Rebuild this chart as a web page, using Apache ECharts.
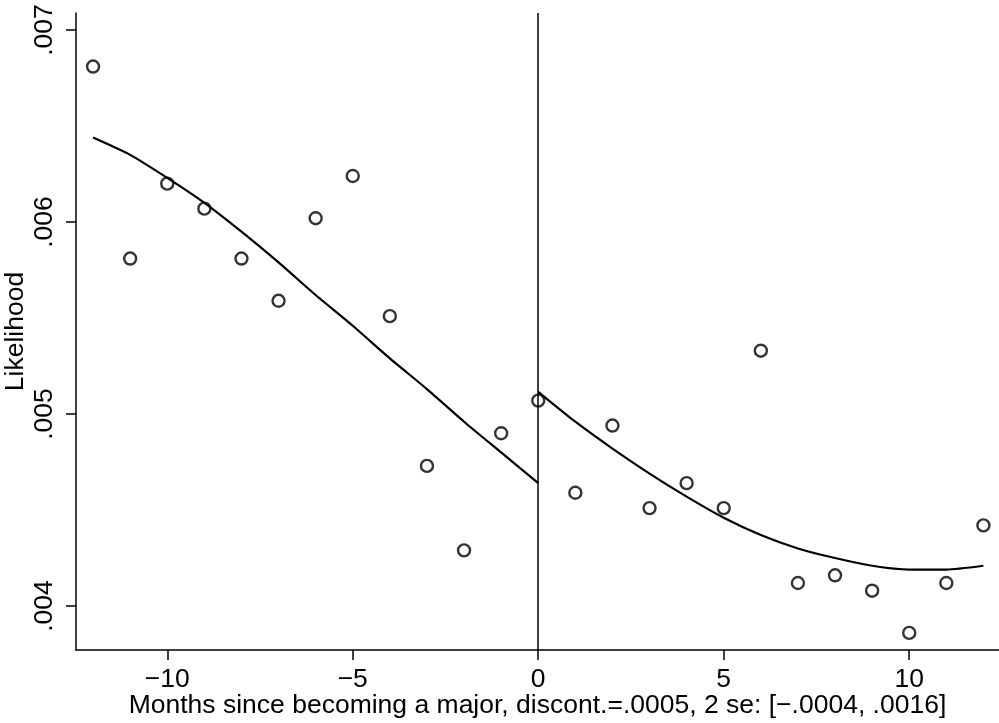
<!DOCTYPE html>
<html>
<head>
<meta charset="utf-8">
<script src="https://cdn.jsdelivr.net/npm/echarts@6/dist/echarts.min.js"></script>
<style>html,body{margin:0;padding:0;background:#fff;}#c{width:999px;height:723px;}</style>
</head>
<body>
<div id="c"></div>
<script>
// Months since becoming a major
const months = [-12,-11,-10,-9,-8,-7,-6,-5,-4,-3,-2,-1,0,1,2,3,4,5,6,7,8,9,10,11,12];
// Observed likelihood (circles)
const likelihood = [0.00681,0.00581,0.00620,0.00607,0.00581,0.00559,0.00602,0.00624,0.00551,0.00473,0.00429,0.00490,0.00507,
                    0.00459,0.00494,0.00451,0.00464,0.00451,0.00533,0.00412,0.00416,0.00408,0.00386,0.00412,0.00442];
// Fitted curve before the cutoff (months -12..0)
const fitBeforeX = [-12,-11,-10,-9,-8,-7,-6,-5,-4,-3,-2,-1,0];
const fitBefore = [0.00644,0.00635,0.00623,0.00610,0.00595,0.00579,0.00562,0.00546,0.00529,0.00513,0.00496,0.00480,0.00464];
// Fitted curve after the cutoff (months 0..12)
const fitAfterX = [0,1,2,3,4,5,6,7,8,9,10,11,12];
const fitAfter = [0.005116,0.00496,0.00482,0.00469,0.00457,0.00446,0.00437,0.00430,0.00425,0.00421,0.00419,0.00419,0.00421];
// Tick labels
const xTicks = [-10,-5,0,5,10];
const yTicks = [0.004,0.005,0.006,0.007];
const yTickLabels = ['.004','.005','.006','.007'];
const cutoff = 0;

const FONT = 'Liberation Sans, Arial, Helvetica, sans-serif';
const FS = 26.5;
const chart = echarts.init(document.getElementById('c'), null, {renderer:'canvas'});
chart.setOption({
  backgroundColor:'#fff',
  animation:false,
  grid:{left:76,right:0,top:13,bottom:73,containLabel:false,outerBoundsMode:'none'},
  xAxis:{
    type:'value', min:-12.46, max:12.42,
    name:'Months since becoming a major, discont.=.0005, 2 se: [\u2212.0004, .0016]',
    nameLocation:'middle', nameGap:42, nameMoveOverlap:false,
    nameTextStyle:{fontFamily:FONT,fontSize:FS,color:'#000'},
    axisLine:{show:true,onZero:false,lineStyle:{color:'#000',width:1.5}},
    axisTick:{show:true,length:10,customValues:xTicks,lineStyle:{color:'#000',width:1.5}},
    axisLabel:{customValues:xTicks,margin:16,fontFamily:FONT,fontSize:FS,color:'#000',
      formatter:v=>String(v).replace('-','\u2212')},
    splitLine:{show:false}
  },
  yAxis:{
    type:'value', min:0.003771, max:0.007089,
    name:'Likelihood', nameLocation:'middle', nameGap:47, nameRotate:90, nameMoveOverlap:false,
    nameTextStyle:{fontFamily:FONT,fontSize:FS,color:'#000'},
    axisLine:{show:true,onZero:false,lineStyle:{color:'#000',width:1.5}},
    axisTick:{show:true,length:10,customValues:yTicks,lineStyle:{color:'#000',width:1.5}},
    axisLabel:{customValues:yTicks,rotate:90,margin:18,fontFamily:FONT,fontSize:FS,color:'#000',
      formatter:v=>yTickLabels[yTicks.findIndex(t=>Math.abs(t-v)<1e-9)]},
    splitLine:{show:false}
  },
  series:[
    {type:'line',data:fitBeforeX.map((x,i)=>[x,fitBefore[i]]),smooth:0.2,showSymbol:false,
     lineStyle:{color:'#000',width:2.2},
     markLine:{silent:true,symbol:['none','none'],label:{show:false},
       lineStyle:{color:'#000',width:1.5,type:'solid'},data:[{xAxis:cutoff}]}},
    {type:'line',data:fitAfterX.map((x,i)=>[x,fitAfter[i]]),smooth:0.2,showSymbol:false,
     lineStyle:{color:'#000',width:2.2}},
    {type:'scatter',data:months.map((x,i)=>[x,likelihood[i]]),symbol:'circle',symbolSize:12,
     itemStyle:{color:'rgba(0,0,0,0)',borderColor:'#000',borderWidth:2.4}}
  ]
});
</script>
</body>
</html>
